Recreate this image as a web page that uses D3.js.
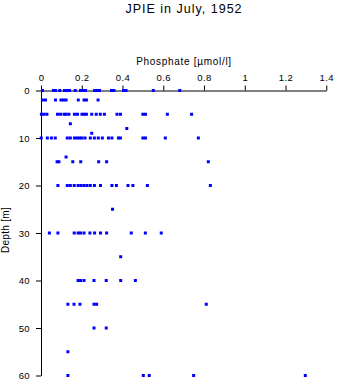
<!DOCTYPE html>
<html>
<head>
<meta charset="utf-8">
<script src="https://cdn.jsdelivr.net/npm/d3@7"></script>
<style>
  html, body { margin: 0; padding: 0; background: #fff; }
  svg { display: block; }
  text { font-family: "Liberation Sans", Arial, Helvetica, sans-serif; fill: #000; }
</style>
</head>
<body>
<svg id="chart" width="337" height="384"></svg>
<script>
// ---- data ----
const title = "JPIE in July, 1952";
const xLabel = "Phosphate [\u00b5mol/l]";
const yLabel = "Depth [m]";
const xTicks = [0, 0.2, 0.4, 0.6, 0.8, 1, 1.2, 1.4];
const yTicks = [0, 10, 20, 30, 40, 50, 60];

const depthLevels = [0, 2, 5, 7, 8, 9, 10, 14, 15, 20, 25, 30, 35, 40, 45, 50, 55, 60];
const phosphateAt0  = [0.007, 0.061, 0.071, 0.092, 0.115, 0.128, 0.140, 0.168, 0.194, 0.206, 0.218, 0.263, 0.275, 0.287, 0.346, 0.358, 0.405, 0.417, 0.551, 0.681];
const phosphateAt2  = [0.007, 0.022, 0.071, 0.098, 0.110, 0.123, 0.183, 0.211, 0.223, 0.280];
const phosphateAt5  = [0.002, 0.015, 0.029, 0.081, 0.096, 0.113, 0.123, 0.137, 0.164, 0.179, 0.201, 0.213, 0.223, 0.249, 0.271, 0.291, 0.311, 0.373, 0.390, 0.500, 0.513, 0.620, 0.739];
const phosphateAt7  = [0.144];
const phosphateAt8  = [0.421];
const phosphateAt9  = [0.249];
const phosphateAt10 = [0.001, 0.031, 0.051, 0.070, 0.129, 0.144, 0.164, 0.177, 0.189, 0.201, 0.216, 0.242, 0.262, 0.281, 0.301, 0.331, 0.348, 0.380, 0.390, 0.500, 0.513, 0.610, 0.772];
const phosphateAt14 = [0.123];
const phosphateAt15 = [0.079, 0.088, 0.156, 0.195, 0.283, 0.322, 0.821];
const phosphateAt20 = [0.083, 0.129, 0.144, 0.163, 0.182, 0.196, 0.211, 0.226, 0.242, 0.262, 0.292, 0.348, 0.370, 0.427, 0.451, 0.522, 0.831];
const phosphateAt25 = [0.351];
const phosphateAt30 = [0.041, 0.083, 0.163, 0.182, 0.194, 0.211, 0.240, 0.263, 0.292, 0.322, 0.443, 0.512, 0.590];
const phosphateAt35 = [0.391];
const phosphateAt40 = [0.182, 0.194, 0.211, 0.260, 0.320, 0.391, 0.463];
const phosphateAt45 = [0.132, 0.162, 0.191, 0.260, 0.273, 0.811];
const phosphateAt50 = [0.260, 0.320];
const phosphateAt55 = [0.132];
const phosphateAt60 = [0.132, 0.502, 0.531, 0.749, 1.297];

const phosphateByDepth = [phosphateAt0, phosphateAt2, phosphateAt5, phosphateAt7, phosphateAt8, phosphateAt9,
  phosphateAt10, phosphateAt14, phosphateAt15, phosphateAt20, phosphateAt25, phosphateAt30, phosphateAt35,
  phosphateAt40, phosphateAt45, phosphateAt50, phosphateAt55, phosphateAt60];

const points = [];
depthLevels.forEach((d, i) => phosphateByDepth[i].forEach(v => points.push({ depth: d, phosphate: v })));

// ---- drawing ----
const svg = d3.select("#chart");
const x = d3.scaleLinear().domain([0, 1.4]).range([41, 326.3]);
const y = d3.scaleLinear().domain([0, 60]).range([90.5, 375.5]);

// title
svg.append("text")
  .attr("x", 184).attr("y", 12.7)
  .attr("text-anchor", "middle")
  .style("font-size", "12.5px")
  .style("letter-spacing", "1px")
  .text(title);

// x axis (top)
const xAxis = d3.axisTop(x)
  .tickValues(xTicks)
  .tickFormat(d3.format("~g"))
  .tickSizeInner(5).tickSizeOuter(0).tickPadding(5);
const gx = svg.append("g").attr("transform", "translate(0,90.5)").call(xAxis);
gx.select(".domain").attr("stroke", "#000").attr("stroke-width", 1);
gx.selectAll(".tick line").attr("stroke", "#000");
gx.selectAll(".tick text")
  .style("font-size", "9.5px")
  .style("letter-spacing", "0.4px")
  .style("font-family", '"Liberation Sans", Arial, sans-serif')
  .attr("fill", "#000");

svg.append("text")
  .attr("x", 184).attr("y", 65)
  .attr("text-anchor", "middle")
  .style("font-size", "10px")
  .style("letter-spacing", "0.7px")
  .text(xLabel);

// y axis (left)
const yAxis = d3.axisLeft(y)
  .tickValues(yTicks)
  .tickSizeInner(5).tickSizeOuter(0).tickPadding(6);
const gy = svg.append("g").attr("transform", "translate(41,0)").call(yAxis);
gy.select(".domain").attr("stroke", "#000").attr("stroke-width", 1);
gy.selectAll(".tick line").attr("stroke", "#000");
gy.selectAll(".tick text")
  .style("font-size", "9.5px")
  .style("letter-spacing", "0.4px")
  .style("font-family", '"Liberation Sans", Arial, sans-serif')
  .attr("fill", "#000");

svg.append("text")
  .attr("transform", "translate(9,230) rotate(-90)")
  .attr("text-anchor", "middle")
  .style("font-size", "10px")
  .style("letter-spacing", "0.3px")
  .text(yLabel);

// points
svg.append("g").selectAll("rect")
  .data(points)
  .join("rect")
  .attr("x", d => x(d.phosphate) - 1.5)
  .attr("y", d => y(d.depth) - 1.5)
  .attr("width", 3)
  .attr("height", 3)
  .attr("fill", "#0000ff");
</script>
</body>
</html>
